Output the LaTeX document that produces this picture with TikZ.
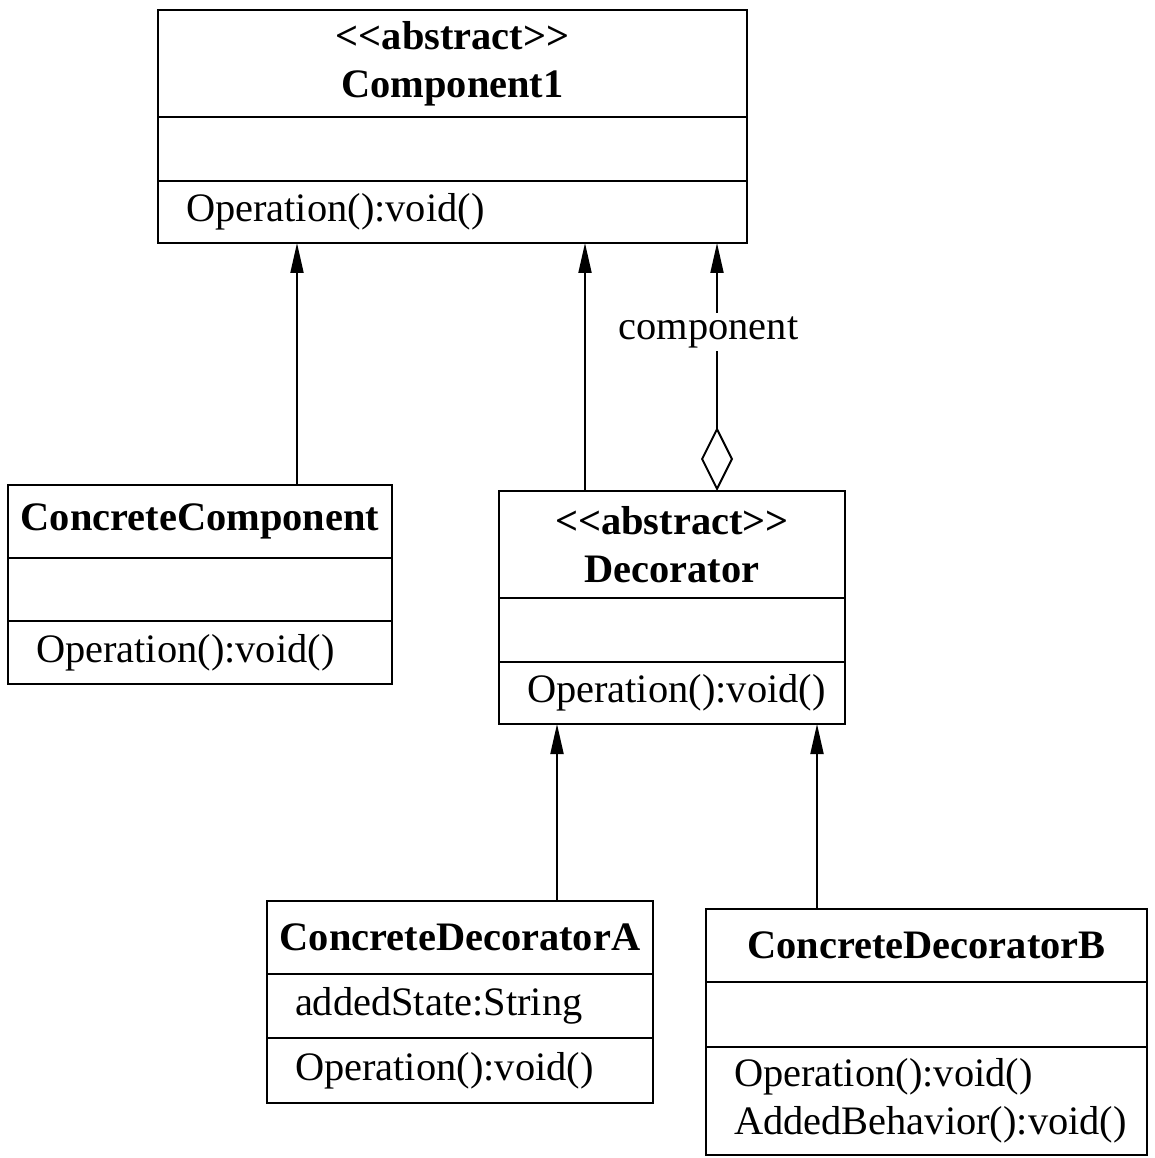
\documentclass[tikz,border=0pt]{standalone}
\usepackage{fontspec}
\setmainfont{Liberation Serif}
\usetikzlibrary{positioning,calc,arrows.meta}
\newcommand\umlfont{\fontsize{23}{27.5}\selectfont}
\newcommand\stereo[1]{<\kern0pt<#1>\kern0pt>}
\tikzset{
  cmp/.style  = {draw, line width=1.4pt, outer sep=0pt, inner sep=0pt,
                 minimum height=1.28cm, font=\umlfont},
  hdr/.style  = {cmp, align=center, font=\umlfont\bfseries},
  ops/.style  = {cmp, align=left, inner xsep=0.56cm},
  tri/.style  = {-{Triangle[length=0.6cm,width=0.26cm]}},
  gen/.style  = {line width=1.1pt, tri},
  agg/.style  = {line width=1.1pt,
                 {Diamond[open,length=1.28cm,width=0.64cm]}-{Triangle[length=0.6cm,width=0.26cm]}},
  lbl/.style  = {fill=white, inner sep=2pt, font=\umlfont},
}
\begin{document}
\begin{tikzpicture}
  \useasboundingbox (0,0) rectangle (23.08,-23.16);
  \node[hdr, minimum width=11.78cm, minimum height=2.14cm] (comp) at (9.05,-1.27)
    {\stereo{abstract}\\Component1};
  \node[cmp, minimum width=11.78cm, below=0pt of comp] (compA) {};
  \node[ops, text width=10.66cm, minimum height=1.24cm, below=0pt of compA] (compO)
    {Operation():void()};
  \node[hdr, minimum width=7.68cm, minimum height=1.46cm] (ccomp) at (4.0,-10.43)
    {ConcreteComponent};
  \node[cmp, minimum width=7.68cm, minimum height=1.26cm, below=0pt of ccomp] (ccompA) {};
  \node[ops, text width=6.56cm, minimum height=1.26cm, below=0pt of ccompA] (ccompO)
    {Operation():void()};
  \node[hdr, minimum width=6.92cm, minimum height=2.14cm] (dec) at (13.44,-10.89)
    {\stereo{abstract}\\Decorator};
  \node[cmp, minimum width=6.92cm, below=0pt of dec] (decA) {};
  \node[ops, text width=5.80cm, minimum height=1.24cm, below=0pt of decA] (decO)
    {Operation():void()};
  \node[hdr, minimum width=7.72cm, minimum height=1.46cm] (cda) at (9.2,-18.75)
    {ConcreteDecoratorA};
  \node[ops, text width=6.60cm, below=0pt of cda] (cdaA) {addedState:String};
  \node[ops, text width=6.60cm, minimum height=1.30cm, below=0pt of cdaA] (cdaO)
    {Operation():void()};
  \node[hdr, minimum width=8.82cm, minimum height=1.46cm] (cdb) at (18.53,-18.91)
    {ConcreteDecoratorB};
  \node[cmp, minimum width=8.82cm, minimum height=1.30cm, below=0pt of cdb] (cdbA) {};
  \node[ops, text width=7.70cm, minimum height=2.16cm, below=0pt of cdbA] (cdbO)
    {Operation():void()\\AddedBehavior():void()};
  \coordinate (p1) at ($(ccomp.north west)+(5.78,0)$);
  \coordinate (p2) at ($(dec.north west)+(1.72,0)$);
  \coordinate (p3) at ($(dec.north west)+(4.36,0)$);
  \coordinate (p4) at ($(cda.north west)+(5.80,0)$);
  \coordinate (p5) at ($(cdb.north west)+(2.22,0)$);
  \draw[gen] (p1) -- (p1 |- compO.south);
  \draw[gen] (p2) -- (p2 |- compO.south);
  \draw[agg] (p3) -- (p3 |- compO.south)
    node[lbl, pos=0.64, xshift=-0.17cm] (role) {component};
  \draw[gen] (p4) -- (p4 |- decO.south);
  \draw[gen] (p5) -- (p5 |- decO.south);
\end{tikzpicture}
\end{document}
